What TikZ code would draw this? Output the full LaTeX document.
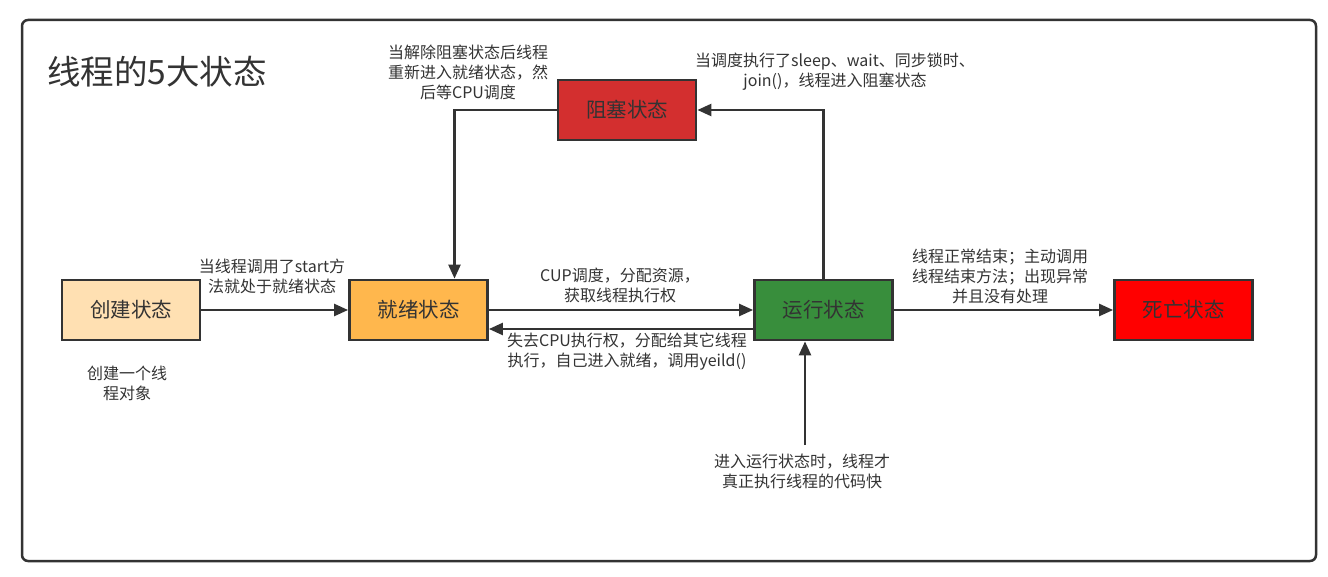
\documentclass[tikz,border=0pt]{standalone}
\usepackage{fontspec}
\setmainfont{Noto Sans CJK SC}
\usetikzlibrary{arrows.meta,calc}
\definecolor{ink}{HTML}{333333}
\definecolor{cCreate}{HTML}{FFE0B2}
\definecolor{cReady}{HTML}{FFB74D}
\definecolor{cRun}{HTML}{388E3C}
\definecolor{cBlock}{HTML}{D32F2F}
\definecolor{cDead}{HTML}{FF0000}
\tikzset{
  statebox/.style={draw=ink, line width=2.8pt, minimum width=138pt, minimum height=60pt,
    inner sep=0pt, font=\fontsize{20.5}{24}\selectfont, text=ink},
  arr/.style={draw=ink, line width=2.5pt, -{Triangle[length=14pt,width=12pt]}},
  lbl/.style={align=center, font=\fontsize{16}{20}\selectfont, text=ink, inner sep=0pt},
}
\begin{document}
\begin{tikzpicture}[x=1pt,y=-1pt]
\useasboundingbox (0,0) rectangle (1328,577);
\draw[ink, line width=2.5pt, rounded corners=6pt] (22,20) rectangle (1316,561);
\node[text=ink, font=\fontsize{33.5}{38}\selectfont, anchor=west, inner sep=0pt] (title) at (47,72) {线程的5大状态};

\node[statebox, fill=cCreate] (create) at (131,310) {创建状态};
\node[statebox, fill=cReady] (ready) at (418.5,310) {就绪状态};
\node[statebox, fill=cRun] (run) at (823.5,310) {运行状态};
\node[statebox, fill=cDead] (dead) at (1183.5,310) {死亡状态};
\node[statebox, fill=cBlock] (block) at (627,110) {阻塞状态};
\coordinate (entry) at (805,445);

\draw[arr] (create.east) -- (ready.west);
\draw[arr] (ready.east) -- (run.west);
\draw[arr] ([yshift=-19pt]run.west) -- ([yshift=-19pt]ready.east);
\draw[arr] (run.north) |- (block.east);
\draw[arr] (block.west) -| ([xshift=36pt]ready.north);
\draw[arr] (run.east) -- (dead.west);
\draw[arr] (entry) -- (entry |- run.south);

\node[lbl] (l1) at (468,72) {当解除阻塞状态后线程\\重新进入就绪状态，然\\后等CPU调度};
\node[lbl] (l2) at (835,72) {当调度执行了sleep、wait、同步锁时、\\join()，线程进入阻塞状态};
\node[lbl] (l3) at (272,276) {当线程调用了start方\\法就处于就绪状态};
\node[lbl] (l4) at (127,383) {创建一个线\\程对象};
\node[lbl] (l5) at (620,285) {CUP调度，分配资源，\\获取线程执行权};
\node[lbl] (l6) at (627,352) {失去CPU执行权，分配给其它线程\\执行，自己进入就绪，调用yeild()};
\node[lbl] (l7) at (1000,276) {线程正常结束；主动调用\\线程结束方法；出现异常\\并且没有处理};
\node[lbl] (l8) at (802,471) {进入运行状态时，线程才\\真正执行线程的代码快};
\end{tikzpicture}
\end{document}
